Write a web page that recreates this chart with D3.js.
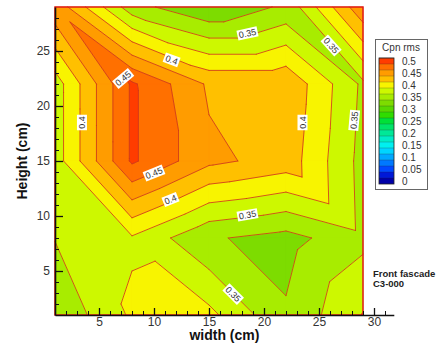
<!DOCTYPE html>
<html><head><meta charset="utf-8">
<script src="https://cdn.jsdelivr.net/npm/d3@7"></script>
<style>
body{margin:0;background:#fff;}
svg{display:block;font-family:Arial,"Liberation Sans",sans-serif;}
</style>
</head><body>
<svg id="chart" width="442" height="343"></svg>
<script>
// ---- data ----
const xNodes = [1, 8, 15, 22, 29];          // width (cm) of measurement columns
const yNodes = [1, 8, 15, 22, 29];          // height (cm) of measurement rows
// Cpn rms, one row per height (bottom row y=1 first), columns follow xNodes
const rowY1  = [0.329, 0.379, 0.382, 0.328, 0.376];
const rowY8  = [0.351, 0.372, 0.328, 0.316, 0.343];
const rowY15 = [0.362, 0.479, 0.431, 0.415, 0.341];
const rowY22 = [0.362, 0.479, 0.421, 0.421, 0.345];
const rowY29 = [0.443, 0.335, 0.302, 0.330, 0.445];
const levels = [0,0.025,0.05,0.075,0.1,0.125,0.15,0.175,0.2,0.225,0.25,0.275,0.3,0.325,0.35,0.375,0.4,0.425,0.45,0.475,0.5];
const levelColors = ["#0000a8","#0018d8","#0048ff","#0078ff","#00a8ff","#00d4ff","#00f0f0","#00ecc8","#00e898","#00e468","#00e038","#30dc00","#58d800","#7ddc00","#a8ec00","#cdf800","#f8f400","#ffc000","#ff9c00","#ff7000","#ff3c00"];
const legendTicks = [0,0.05,0.1,0.15,0.2,0.25,0.3,0.35,0.4,0.45,0.5];
const xTicks = [5,10,15,20,25,30];
const yTicks = [5,10,15,20,25];
const contourLabels = [
  {text:"0.45", x:7.2,  y:22.5, angle:-40},
  {text:"0.4",  x:11.6, y:24.2, angle:20},
  {text:"0.4",  x:3.45, y:18.5, angle:-90},
  {text:"0.45", x:10.0, y:13.9, angle:-22},
  {text:"0.4",  x:11.5, y:11.5, angle:-22},
  {text:"0.35", x:18.5, y:26.6, angle:-12},
  {text:"0.35", x:26.1, y:25.5, angle:48},
  {text:"0.4",  x:23.5, y:18.5, angle:-90},
  {text:"0.35", x:28.2, y:18.7, angle:-85},
  {text:"0.35", x:18.5, y:10.1, angle:-10},
  {text:"0.35", x:17.2, y:2.9,  angle:45}
];

// ---- drawing ----
const svg = d3.select("#chart");
const x = d3.scaleLinear().domain([1, 31.8]).range([55, 393.8]);
const y = d3.scaleLinear().domain([1, 29]).range([315, 7]);
const grid = [rowY1, rowY8, rowY15, rowY22, rowY29];

const x0 = x(xNodes[0]), x1 = x(xNodes[xNodes.length-1]);
const y0 = y(yNodes[yNodes.length-1]), y1 = y(yNodes[0]);

// triangulate the measurement grid (each cell split along its top-left / bottom-right diagonal)
const node = (i, j) => ({x: xNodes[i], y: yNodes[j], v: grid[j][i]});
const tris = [];
for (let j = 0; j < yNodes.length - 1; j++) {
  for (let i = 0; i < xNodes.length - 1; i++) {
    const BL = node(i, j), BR = node(i+1, j), TL = node(i, j+1), TR = node(i+1, j+1);
    tris.push([TL, BL, BR], [TL, BR, TR]);
  }
}
function clip(poly, f) {
  const out = [];
  for (let k = 0; k < poly.length; k++) {
    const P = poly[k], Q = poly[(k+1) % poly.length];
    const fp = f(P), fq = f(Q);
    if (fp >= 0) out.push(P);
    if ((fp >= 0) !== (fq >= 0)) {
      const t = fp / (fp - fq);
      out.push({x: P.x + t*(Q.x-P.x), y: P.y + t*(Q.y-P.y), v: P.v + t*(Q.v-P.v)});
    }
  }
  return out;
}
const line = d3.line().x(p => x(p.x)).y(p => y(p.y));

const plot = svg.append("g");
// filled bands
for (let k = 0; k < levels.length - 1; k++) {
  const lo = levels[k], hi = levels[k+1];
  const col = levelColors[k+1];
  const bandPaths = [];
  tris.forEach(t => {
    let p = t;
    if (k > 0) p = clip(p, q => q.v - lo);
    if (p.length < 3) return;
    if (k < levels.length - 2) p = clip(p, q => hi - q.v);
    if (p.length < 3) return;
    bandPaths.push(line(p) + "Z");
  });
  if (bandPaths.length)
    plot.append("path").attr("d", bandPaths.join("")).attr("fill", col)
      .attr("stroke", col).attr("stroke-width", 0.6).attr("stroke-linejoin","round");
}
// contour lines
levels.forEach(L => {
  const segs = [];
  tris.forEach(t => {
    const pts = [];
    for (let k = 0; k < 3; k++) {
      const P = t[k], Q = t[(k+1) % 3];
      if ((P.v >= L) !== (Q.v >= L)) {
        const s = (L - P.v) / (Q.v - P.v);
        pts.push({x: P.x + s*(Q.x-P.x), y: P.y + s*(Q.y-P.y)});
      }
    }
    if (pts.length === 2) segs.push(line(pts));
  });
  if (segs.length)
    plot.append("path").attr("d", segs.join("")).attr("fill","none")
      .attr("stroke", "#cf3a18").attr("stroke-width", 0.85).attr("stroke-linecap","round");
});

// zone border
svg.append("rect").attr("x", x0).attr("y", y0).attr("width", x1-x0).attr("height", y1-y0)
  .attr("fill","none").attr("stroke","#e01818").attr("stroke-width",1.5);

// contour labels
const lab = svg.append("g").attr("font-size", 9).attr("fill", "#333");
contourLabels.forEach(d => {
  const g = lab.append("g").attr("transform", `translate(${x(d.x)},${y(d.y)}) rotate(${d.angle})`);
  const t = g.append("text").attr("text-anchor","middle").attr("dy","0.35em").text(d.text);
  const w = t.node().getComputedTextLength();
  g.insert("rect","text").attr("x", -w/2 - 1.5).attr("y", -5).attr("width", w + 3).attr("height", 10).attr("fill","#fff");
});

// axes
function styleAxis(g){
  g.select(".domain").attr("stroke","#111").attr("stroke-width",1.6);
  g.selectAll(".tick line").attr("stroke","#111").attr("stroke-width",1.3);
  g.selectAll(".tick text").attr("fill","#333").attr("font-size",12).attr("font-family","Arial,'Liberation Sans',sans-serif");
}
const xMinor = d3.range(2, 32).filter(v => !xTicks.includes(v));
const yMinor = d3.range(2, 29).filter(v => !yTicks.includes(v));

svg.append("g").attr("transform",`translate(0,${y1})`)
  .call(d3.axisBottom(x).tickValues(xMinor).tickSize(-4).tickFormat(""))
  .call(g => { g.select(".domain").remove(); g.selectAll(".tick line").attr("stroke","#111").attr("stroke-width",1); });
svg.append("g").attr("transform",`translate(${x0},0)`)
  .call(d3.axisLeft(y).tickValues(yMinor).tickSize(-4).tickFormat(""))
  .call(g => { g.select(".domain").remove(); g.selectAll(".tick line").attr("stroke","#111").attr("stroke-width",1); });

svg.append("g").attr("transform",`translate(0,${y1})`)
  .call(d3.axisBottom(x).tickValues(xTicks).tickSizeInner(-7).tickSizeOuter(0).tickPadding(2))
  .call(styleAxis);
svg.append("g").attr("transform",`translate(${x0},0)`)
  .call(d3.axisLeft(y).tickValues(yTicks).tickSizeInner(-8).tickSizeOuter(0).tickPadding(5))
  .call(styleAxis);

svg.append("text").attr("x", (x(1)+x(31.8))/2).attr("y", 340).attr("text-anchor","middle")
  .attr("font-size",14).attr("font-weight","bold").attr("fill","#111").text("width (cm)");
svg.append("text").attr("transform",`translate(27,${(y0+y1)/2}) rotate(-90)`).attr("text-anchor","middle")
  .attr("font-size",14).attr("font-weight","bold").attr("fill","#111").text("Height (cm)");

// legend
const leg = svg.append("g");
leg.append("rect").attr("x",375.5).attr("y",39.5).attr("width",52).attr("height",150)
  .attr("fill","#fff").attr("stroke","#666").attr("stroke-width",1);
leg.append("text").attr("x",401).attr("y",51).attr("text-anchor","middle").attr("font-size",10).attr("fill","#333").text("Cpn rms");
const ly = d3.scaleLinear().domain([0, 0.5]).range([181, 61]);
const boxH = Math.abs(ly(0.025) - ly(0));
levels.forEach((v, k) => {
  leg.append("rect").attr("x",379).attr("y", ly(v) - boxH/2).attr("width",15).attr("height",boxH)
    .attr("fill", levelColors[k]);
});
levels.forEach(v => {
  leg.append("line").attr("x1",379).attr("x2",394).attr("y1", ly(v) - boxH/2).attr("y2", ly(v) - boxH/2)
    .attr("stroke","#222").attr("stroke-opacity",0.35).attr("stroke-width",0.7);
});
leg.append("rect").attr("x",379).attr("y", ly(0.5) - boxH/2).attr("width",15).attr("height", ly(0) - ly(0.5) + boxH)
  .attr("fill","none").attr("stroke","#222").attr("stroke-width",0.8);
legendTicks.forEach(v => {
  leg.append("text").attr("x",402).attr("y", ly(v)).attr("dy","0.35em").attr("font-size",10).attr("fill","#333")
    .text(String(+v.toFixed(2)));
});

// annotation
svg.append("text").attr("x",373).attr("y",277).attr("font-size",9.5).attr("font-weight","bold").attr("fill","#222").text("Front fascade");
svg.append("text").attr("x",373).attr("y",287).attr("font-size",9.5).attr("font-weight","bold").attr("fill","#222").text("C3-000");
</script>
</body></html>
